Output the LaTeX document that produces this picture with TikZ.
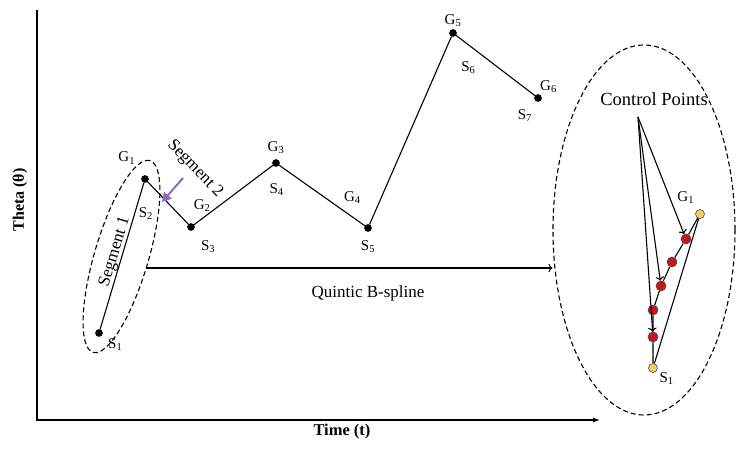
\documentclass[tikz,border=0pt]{standalone}
\usepackage{fontspec}
\setmainfont{Liberation Serif}
\usetikzlibrary{arrows.meta,shapes.geometric}
\definecolor{cpred}{RGB}{200,20,30}
\definecolor{cpyellow}{RGB}{245,205,100}
\definecolor{hintpurple}{RGB}{140,110,185}
\newcommand{\gs}[2]{#1\textsubscript{#2}}
\begin{document}
\begin{tikzpicture}[x=1pt, y=1pt, font=\fontsize{17}{20}\selectfont,
	every path/.style={line width=1.1pt},
	dot/.style={circle, inner sep=0, minimum size=6.5pt, draw=black,
				fill=black},
	ctrl/.style={circle, inner sep=0, minimum size=10pt, draw=black!70,
				fill=cpred, line width=0.6pt},
	knot/.style={circle, inner sep=0, minimum size=9pt, draw=black!70,
				fill=cpyellow, line width=0.6pt},
	loop/.style={ellipse, draw, inner sep=0, dash pattern=on 5pt off 3pt},
	every label/.style={inner sep=1pt, font=\fontsize{15}{17}\selectfont}]
	\useasboundingbox (0,0) rectangle (736,450);

	% axes
	\coordinate (top) at (37,440);
	\coordinate (origin) at (37,30);
	\coordinate (tend) at (600,30);
	\draw[-{Latex[length=7pt,width=5pt]}] (top) -- (origin) -- (tend);
	\node[font=\fontsize{16.5}{19}\selectfont\bfseries] (xlabel) at (342,18) {Time (t)};
	\node[rotate=90, font=\fontsize{16}{19}\selectfont\bfseries] (ylabel) at (20,250) {Theta (θ)};

	% trajectory
	\node[dot, label={[label distance=5pt]-29:\gs{S}{1}}] (s1) at (99,117) {};
	\node[dot, label={[label distance=12pt]122:\gs{G}{1}},
		label={[label distance=23pt]-88:\gs{S}{2}}] (g1) at (145,271) {};
	\node[dot, label={[label distance=10pt]85:\gs{G}{2}},
		label={[label distance=11pt]-55:\gs{S}{3}}] (g2) at (191,223) {};
	\node[dot, label={[label distance=4pt]90:\gs{G}{3}},
		label={[label distance=15pt]-88:\gs{S}{4}}] (g3) at (276,287) {};
	\node[dot, label={[label distance=20pt]104:\gs{G}{4}},
		label={[label distance=7pt]-90:\gs{S}{5}}] (g4) at (368,222) {};
	\node[dot, label={[label distance=1pt]90:\gs{G}{5}},
		label={[label distance=24pt]-76:\gs{S}{6}}] (g5) at (453,417) {};
	\node[dot, label={[label distance=0pt]80:\gs{G}{6}},
		label={[label distance=7pt]-115:\gs{S}{7}}] (g6) at (538,352) {};
	\draw (s1) -- (g1) -- (g2) -- (g3) -- (g4) -- (g5) -- (g6);

	\node[rotate=73] (seg1) at (115,198) {Segment 1};
	\node[rotate=-46] (seg2) at (195,281) {Segment 2};
	\node[loop, minimum width=200pt, minimum height=54pt, rotate=73.5] (segbox) at (121.5,193.5) {};

	\coordinate (hint) at (183,272);
	\coordinate (hinttip) at (162,248);
	\draw[hintpurple, line width=2pt, -{Triangle[length=9pt,width=10pt]}] (hint) -- (hinttip);

	% zoomed segment
	\node[loop, minimum width=182pt, minimum height=370pt] (zoom) at (644,220) {};
	\coordinate (qs) at (146,182);
	\draw[->] (qs) -- (qs -| zoom.west);
	\node (qlabel) at (368,157) {Quintic B-spline};

	\node[font=\fontsize{18.5}{21}\selectfont] (cptext) at (654,351) {Control Points};
	\coordinate (apex) at (638,333);
	\foreach \n/\p in {1/{686,211}, 2/{672,188}, 3/{661,164}, 4/{653,140}, 5/{653,113}}
		\node[ctrl] (c\n) at (\p) {};
	\node[knot, label={[label distance=1pt]-30:\gs{S}{1}}] (ks) at (653,82) {};
	\node[knot, label={[label distance=5pt]117:\gs{G}{1}}] (kg) at (700,236) {};
	\draw (ks) -- (c5) -- (c4) -- (c3) -- (c2) -- (c1) -- (kg);
	\draw (ks) -- (kg);
	\foreach \n in {1,3,5}
		\draw[->] (apex) -- (c\n);

\end{tikzpicture}
\end{document}
